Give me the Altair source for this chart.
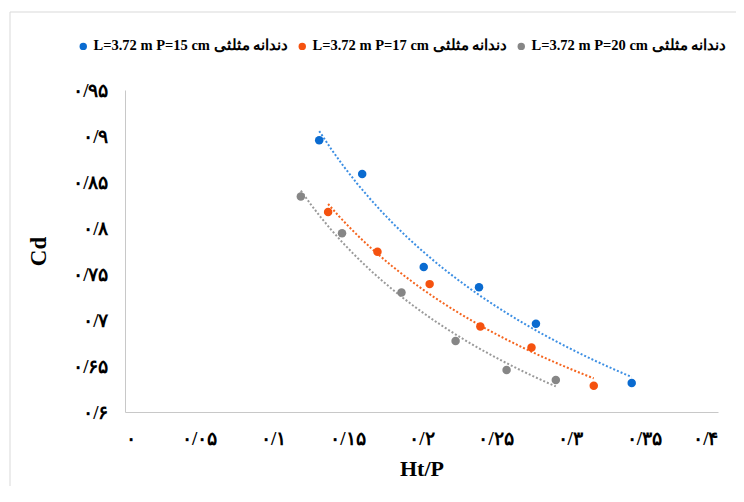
import altair as alt
import pandas as pd

series_names = [
    "L=3.72 m P=15 cm دندانه مثلثی",
    "L=3.72 m P=17 cm دندانه مثلثی",
    "L=3.72 m P=20 cm دندانه مثلثی",
]
colors = ["#0a6bd0", "#f5520f", "#868686"]
line_colors = ["#3d8fe3", "#f5651f", "#9a9a9a"]

x_15 = [0.131, 0.160, 0.2015, 0.2388, 0.2772, 0.3418]
cd_15 = [0.8955, 0.8588, 0.7575, 0.7357, 0.6959, 0.6316]
x_17 = [0.137, 0.1703, 0.2055, 0.2397, 0.2742, 0.3162]
cd_17 = [0.8174, 0.7743, 0.739, 0.6929, 0.670, 0.6286]
x_20 = [0.1186, 0.1464, 0.1865, 0.2230, 0.2574, 0.2906]
cd_20 = [0.8342, 0.7942, 0.730, 0.6773, 0.6457, 0.6348]

x_tick_labels = ["۰", "۰/۰۵", "۰/۱", "۰/۱۵", "۰/۲", "۰/۲۵", "۰/۳", "۰/۳۵", "۰/۴"]
y_tick_labels = ["۰/۶", "۰/۶۵", "۰/۷", "۰/۷۵", "۰/۸", "۰/۸۵", "۰/۹", "۰/۹۵"]

rows = []
for name, xs, ys in zip(series_names, [x_15, x_17, x_20], [cd_15, cd_17, cd_20]):
    for a, b in zip(xs, ys):
        rows.append({"series": name, "x": a, "cd": b})
df = pd.DataFrame(rows)

FONT = "Liberation Serif"

x_expr = "[" + ",".join("'%s'" % s for s in x_tick_labels) + "][round(datum.value/0.05)]"
y_expr = "[" + ",".join("'%s'" % s for s in y_tick_labels) + "][round((datum.value-0.6)/0.05)]"

x_enc = alt.X(
    "x:Q",
    scale=alt.Scale(domain=[0, 0.4], nice=False, zero=False),
    axis=alt.Axis(
        title="Ht/P",
        values=[i * 0.05 for i in range(9)],
        labelExpr=x_expr,
        grid=False,
        ticks=False,
        domainColor="#c8c8c8",
        labelPadding=17,
        labelFontSize=19,
        labelFontWeight="bold",
        labelFont=FONT,
        titleFont=FONT,
        titleFontSize=22,
        titleFontWeight="bold",
        titlePadding=10,
        labelColor="#000",
        titleColor="#000",
    ),
)
y_enc = alt.Y(
    "cd:Q",
    scale=alt.Scale(domain=[0.6, 0.95], nice=False, zero=False),
    axis=alt.Axis(
        title="Cd",
        values=[0.6 + i * 0.05 for i in range(8)],
        labelExpr=y_expr,
        grid=False,
        ticks=False,
        domainColor="#c8c8c8",
        labelPadding=17,
        labelFontSize=19,
        labelFontWeight="bold",
        labelFont=FONT,
        titleFont=FONT,
        titleFontSize=23,
        titleFontWeight="bold",
        titlePadding=22,
        labelColor="#000",
        titleColor="#000",
    ),
)

color_scale = alt.Scale(domain=series_names, range=colors)
line_scale = alt.Scale(domain=series_names, range=line_colors)

base = alt.Chart(df)

lines = base.transform_regression(
    "x", "cd", method="pow", groupby=["series"]
).mark_line(strokeDash=[2, 2], strokeWidth=2).encode(
    x=x_enc,
    y=y_enc,
    color=alt.Color("series:N", scale=line_scale, legend=None),
)

points = base.mark_circle(size=72, opacity=1).encode(
    x=x_enc,
    y=y_enc,
    color=alt.Color(
        "series:N",
        scale=color_scale,
        sort=series_names,
        legend=alt.Legend(
            title=None,
            orient="none",
            direction="horizontal",
            legendX=-49,
            legendY=-51,
            symbolType="circle",
            symbolSize=55,
            labelFont=FONT,
            labelFontSize=14.5,
            labelFontWeight="bold",
            labelColor="#000",
            columnPadding=6,
            labelOffset=3,
            labelLimit=300,
        ),
    ),
)

frame_df = pd.DataFrame({"k": [0]})
frame_v = alt.Chart(frame_df).mark_rule(color="#d9d9d9", strokeWidth=1).encode(
    x=alt.value(-115), y=alt.value(-78), y2=alt.value(420)
)
frame_h = alt.Chart(frame_df).mark_rule(color="#d9d9d9", strokeWidth=1).encode(
    x=alt.value(-115), x2=alt.value(620), y=alt.value(-78)
)

chart = (
    alt.layer(frame_v, frame_h, lines, points)
    .resolve_scale(color="independent")
    .properties(
        width=593,
        height=322,
        padding={"left": 117, "top": 82, "right": 18, "bottom": 74},
        autosize="none",
        background="white",
    )
    .configure_view(stroke="transparent", strokeWidth=0)
)

chart.save("out.html", embed_options={"renderer": "svg", "actions": False})
